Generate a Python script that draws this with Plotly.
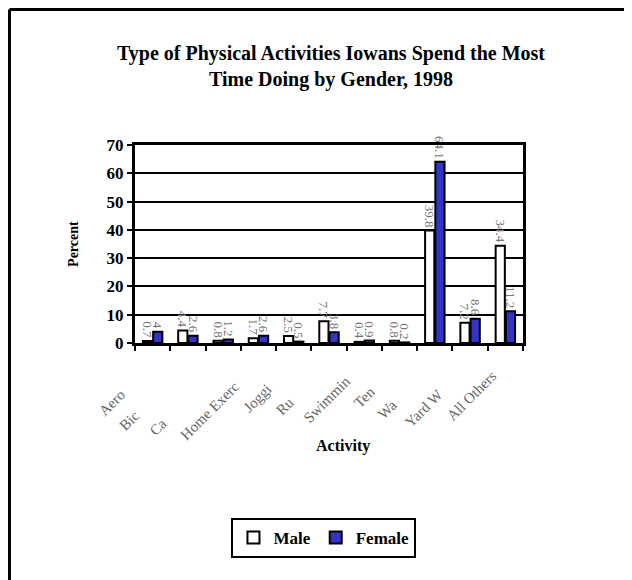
import plotly.graph_objects as go

activities = ["Aero", "Bic", "Ca", "Home Exerc", "Joggi", "Ru", "Swimmin",
              "Ten", "Wa", "Yard W", "All Others"]
male = [0.7, 4.4, 0.8, 1.7, 2.5, 7.7, 0.4, 0.8, 39.8, 7.2, 34.4]
female = [4, 2.6, 1.2, 2.6, 0.5, 3.8, 0.9, 0.2, 64.1, 8.6, 11.2]
yticks = [0, 10, 20, 30, 40, 50, 60, 70]

# the labels in the original are clipped; trailing spaces put them where they sat
label_pad = [12, 20, 23, 9, 10, 15, 7, 11, 16, 12, 5]
ticktext = [a + "\u00a0" * p for a, p in zip(activities, label_pad)]

serif = "Liberation Serif, Times New Roman, serif"

fig = go.Figure()
fig.add_trace(go.Bar(x=activities, y=male, name="Male",
                     marker=dict(color="white", line=dict(color="black", width=2)),
                     text=[str(v) for v in male], textposition="outside",
                     textangle=90, constraintext="none", cliponaxis=False,
                     textfont=dict(family=serif, size=13, color="#777")))
fig.add_trace(go.Bar(x=activities, y=female, name="Female",
                     marker=dict(color="#3333cc", line=dict(color="black", width=2)),
                     text=[str(v) for v in female], textposition="outside",
                     textangle=90, constraintext="none", cliponaxis=False,
                     textfont=dict(family=serif, size=13, color="#777")))

# page body has an 8px margin, so the margins are shifted to compensate
fig.update_layout(
    width=632, height=580,
    margin=dict(l=127, r=117, t=137, b=245),
    paper_bgcolor="white", plot_bgcolor="white",
    barmode="group", bargap=0.42, bargroupgap=0.1,
    font=dict(family=serif, color="black"),
    showlegend=True,
    legend=dict(orientation="h", x=0.487, y=-0.985, xanchor="center", yanchor="middle",
                bordercolor="black", borderwidth=2, bgcolor="white",
                font=dict(family=serif, size=17, color="black", weight="bold"),
                itemwidth=30, traceorder="normal"),
)

fig.update_yaxes(range=[0, 70], tickvals=yticks, showgrid=True, gridcolor="black",
                 gridwidth=2, showline=True, linecolor="black", linewidth=3, mirror=True,
                 ticks="outside", ticklen=5, tickwidth=2, tickcolor="black",
                 tickfont=dict(family=serif, size=17, color="black", weight="bold"),
                 zeroline=False, fixedrange=True)
fig.update_xaxes(showline=True, linecolor="black", linewidth=3, mirror=True,
                 ticks="outside", ticklen=5, tickwidth=2, tickcolor="black",
                 tickson="boundaries", tickangle=-45, ticklabelstandoff=2,
                 tickvals=activities, ticktext=ticktext,
                 tickfont=dict(family=serif, size=15, color="#666"))

fig.add_annotation(text="<b>Type of Physical Activities Iowans Spend the Most<br>Time Doing by Gender, 1998</b>",
                   xref="paper", yref="paper", x=0.505, y=1.394, showarrow=False,
                   xanchor="center", yanchor="middle",
                   font=dict(family=serif, size=20, color="black"))
fig.add_annotation(text="<b>Percent</b>", xref="paper", yref="paper",
                   x=-0.16, y=0.5, showarrow=False, textangle=-90,
                   xanchor="center", yanchor="middle",
                   font=dict(family=serif, size=14, color="black"))
fig.add_annotation(text="<b>Activity</b>", xref="paper", yref="paper",
                   x=0.536, y=-0.518, showarrow=False,
                   xanchor="center", yanchor="middle",
                   font=dict(family=serif, size=16, color="black"))

# outer frame (left and top edges visible in the original)
fig.add_shape(type="line", xref="paper", yref="paper", x0=-0.3235, x1=-0.3235,
              y0=1.684, y1=-1.3, line=dict(color="black", width=3))
fig.add_shape(type="line", xref="paper", yref="paper", x0=-0.3235, x1=1.4,
              y0=1.684, y1=1.684, line=dict(color="black", width=3))

fig.write_html("out.html")
